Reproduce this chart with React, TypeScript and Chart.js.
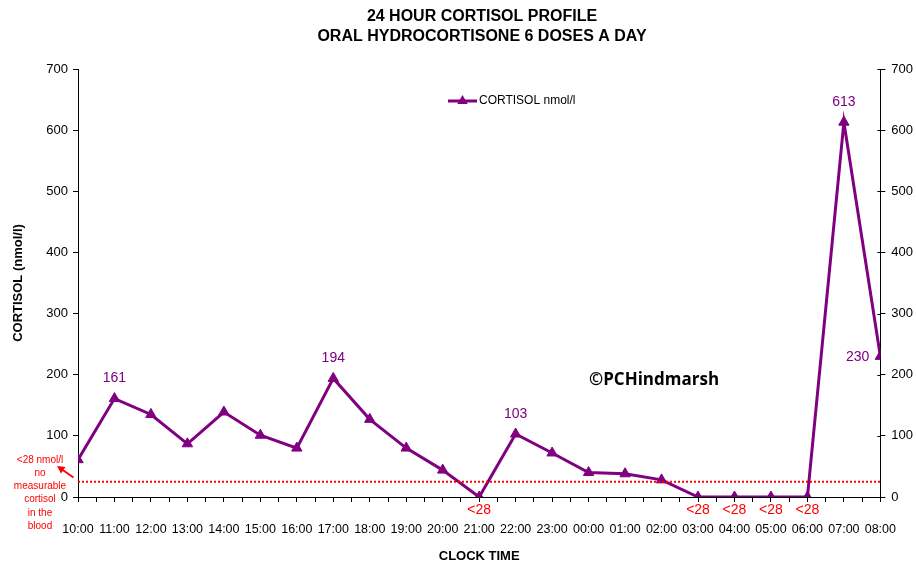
import React, { useEffect, useRef } from 'react';
import { Chart, registerables } from 'chart.js';

Chart.register(...registerables);

const clockTimes = ['10:00', '11:00', '12:00', '13:00', '14:00', '15:00', '16:00', '17:00', '18:00', '19:00', '20:00', '21:00', '22:00', '23:00', '00:00', '01:00', '02:00', '03:00', '04:00', '05:00', '06:00', '07:00', '08:00'];
const cortisol = [61, 161, 135, 87, 139, 101, 80, 194, 127, 80, 44, 0, 103, 72, 40, 38, 28, 0, 0, 0, 0, 613, 230];
const labelledPoints = [1, 7, 12, 21, 22];
const belowLimitText = '<28';
const detectionLine = 25;
const yMin = 0;
const yMax = 700;
const yStep = 100;
const titleLines = ['24 HOUR CORTISOL PROFILE', 'ORAL HYDROCORTISONE 6 DOSES A DAY'];
const noteLines = ['<28 nmol/l', 'no', 'measurable', 'cortisol', 'in the', 'blood'];
const seriesName = 'CORTISOL nmol/l';
const watermark = '©PCHindmarsh';

const PURPLE = '#800080';
const RED = '#ff0000';
const FONT = '"Liberation Sans", Arial, sans-serif';

const overlay = {
  id: 'overlay',
  afterDatasetsDraw(chart: any) {
    const ctx = chart.ctx;
    const meta = chart.getDatasetMeta(1);
    ctx.save();
    ctx.textAlign = 'center';
    ctx.textBaseline = 'middle';
    meta.data.forEach((pt: any, i: number) => {
      const v = cortisol[i];
      if (v === 0) {
        ctx.fillStyle = RED;
        ctx.font = `14px ${FONT}`;
        ctx.fillText(belowLimitText, pt.x, pt.y + 13);
      } else if (labelledPoints.includes(i)) {
        ctx.fillStyle = PURPLE;
        ctx.font = `14px ${FONT}`;
        if (i === cortisol.length - 1) {
          ctx.textAlign = 'right';
          ctx.fillText(String(v), pt.x - 11, pt.y + 1);
          ctx.textAlign = 'center';
        } else {
          ctx.fillText(String(v), pt.x, pt.y - 20);
        }
      }
    });
    ctx.restore();
  },
  afterDraw(chart: any) {
    const ctx = chart.ctx;
    const ca = chart.chartArea;
    ctx.save();
    // inner part of the right-axis tick marks (they cross the axis)
    const y2 = chart.scales.y2;
    ctx.strokeStyle = '#000';
    ctx.lineWidth = 1;
    y2.ticks.forEach((t: any) => {
      const py = Math.round(y2.getPixelForValue(t.value)) + 0.5;
      ctx.beginPath();
      ctx.moveTo(ca.right - 3, py);
      ctx.lineTo(ca.right, py);
      ctx.stroke();
    });
    // title
    ctx.fillStyle = '#000';
    ctx.textAlign = 'center';
    ctx.textBaseline = 'middle';
    ctx.font = `bold 16px ${FONT}`;
    titleLines.forEach((t, i) => ctx.fillText(t, 482, 17 + i * 20));
    // legend
    const lx = ca.left + 370;
    const ly = ca.top + 32;
    ctx.strokeStyle = PURPLE;
    ctx.lineWidth = 3;
    ctx.beginPath();
    ctx.moveTo(lx, ly);
    ctx.lineTo(lx + 29, ly);
    ctx.stroke();
    ctx.fillStyle = PURPLE;
    ctx.beginPath();
    const cx = lx + 14.5;
    const r = 6;
    ctx.moveTo(cx, ly - r);
    ctx.lineTo(cx + r * Math.sin((2 * Math.PI) / 3), ly - r * Math.cos((2 * Math.PI) / 3));
    ctx.lineTo(cx + r * Math.sin((4 * Math.PI) / 3), ly - r * Math.cos((4 * Math.PI) / 3));
    ctx.closePath();
    ctx.fill();
    ctx.fillStyle = '#000';
    ctx.textAlign = 'left';
    ctx.font = `12px ${FONT}`;
    ctx.fillText(seriesName, lx + 31, ly);
    // watermark
    ctx.font = `bold 17px "Open Sans", ${FONT}`;
    ctx.fillText(watermark, ca.left + 511, 380);
    // note
    ctx.fillStyle = RED;
    ctx.textAlign = 'center';
    ctx.font = `10px ${FONT}`;
    noteLines.forEach((t, i) => ctx.fillText(t, 40, 460 + i * 13.2));
    // arrow
    ctx.strokeStyle = RED;
    ctx.lineWidth = 1.8;
    ctx.beginPath();
    ctx.moveTo(73.5, 477.5);
    ctx.lineTo(62, 469.5);
    ctx.stroke();
    ctx.beginPath();
    ctx.moveTo(57, 466);
    ctx.lineTo(65.5, 467);
    ctx.lineTo(61, 473.5);
    ctx.closePath();
    ctx.fill();
    ctx.restore();
  },
};

export default function App() {
  const ref = useRef<HTMLCanvasElement | null>(null);
  useEffect(() => {
    if (!ref.current) return;
    Chart.defaults.font.family = FONT;
    Chart.defaults.color = '#000';
    const points = cortisol.map((v, i) => ({ x: i, y: v }));
    const limit = [
      { x: 0, y: detectionLine },
      { x: clockTimes.length - 1, y: detectionLine },
    ];
    const axisGrid = { drawOnChartArea: false, tickLength: 5, color: '#000', lineWidth: 1 };
    const chart = new Chart(ref.current, {
      type: 'line',
      data: {
        datasets: [
          {
            label: 'limit',
            data: limit,
            borderColor: RED,
            borderWidth: 2,
            borderDash: [2, 2],
            pointRadius: 0,
            fill: false,
          },
          {
            label: seriesName,
            data: points,
            borderColor: PURPLE,
            backgroundColor: PURPLE,
            borderWidth: 3,
            pointStyle: 'triangle',
            pointRadius: 6,
            pointBorderWidth: 1,
            pointBackgroundColor: PURPLE,
            pointBorderColor: PURPLE,
            tension: 0,
            fill: false,
          },
        ],
      },
      options: {
        animation: false,
        responsive: true,
        maintainAspectRatio: false,
        layout: { padding: { top: 69, left: 0, right: 0, bottom: 0 } },
        plugins: { legend: { display: false }, tooltip: { enabled: false }, title: { display: false } },
        scales: {
          x: {
            type: 'linear',
            min: 0,
            max: clockTimes.length - 1,
            offset: false,
            grid: axisGrid,
            border: { color: '#000', width: 1 },
            ticks: {
              stepSize: 0.5,
              autoSkip: false,
              maxRotation: 0,
              minRotation: 0,
              padding: 20,
              font: { size: 12.5 },
              color: '#000',
              callback: (v: any) => (Number.isInteger(v) ? clockTimes[v] : ''),
            },
            title: {
              display: true,
              text: 'CLOCK TIME',
              font: { size: 13, weight: 'bold' },
              color: '#000',
              padding: { top: 0, bottom: -2 },
            },
            afterFit: (s: any) => {
              s.height = 65;
            },
          },
          y: {
            position: 'left',
            min: yMin,
            max: yMax,
            grid: axisGrid,
            border: { color: '#000', width: 1 },
            ticks: { stepSize: yStep, padding: 5, font: { size: 13 }, color: '#000' },
            title: {
              display: true,
              text: 'CORTISOL (nmol/l)',
              font: { size: 13, weight: 'bold' },
              color: '#000',
              padding: { top: 11, bottom: 0 },
            },
            afterFit: (s: any) => {
              s.width = 78;
            },
          },
          y2: {
            position: 'right',
            min: yMin,
            max: yMax,
            grid: axisGrid,
            border: { color: '#000', width: 1 },
            ticks: { stepSize: yStep, padding: 6, font: { size: 13 }, color: '#000' },
            afterFit: (s: any) => {
              s.width = 34;
            },
          },
        },
      },
      plugins: [overlay],
    } as any);
    return () => chart.destroy();
  }, []);
  return (
    <div style={{ position: 'absolute', left: 0, top: 0, width: 916, height: 562, background: '#fff' }}>
      <canvas ref={ref} />
    </div>
  );
}
